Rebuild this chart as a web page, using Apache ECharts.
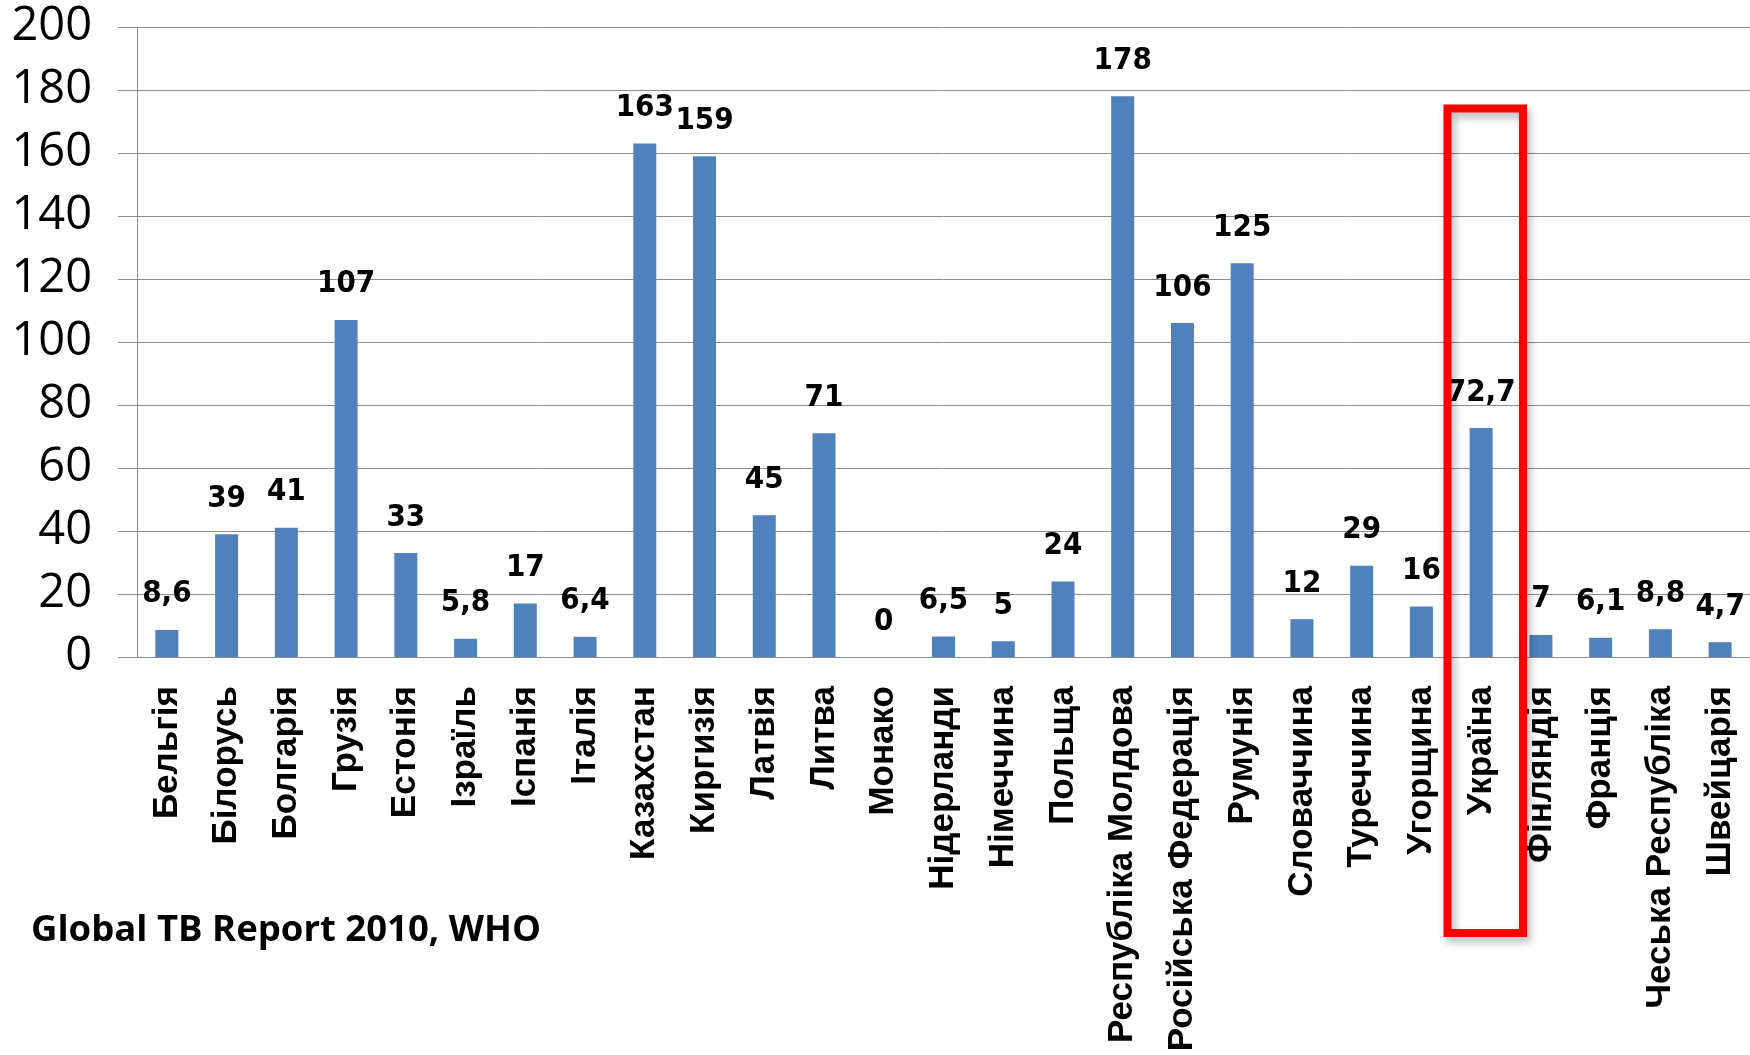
<!DOCTYPE html>
<html lang="uk">
<head>
    <meta charset="utf-8">
    <script src="https://cdn.jsdelivr.net/npm/echarts@6/dist/echarts.min.js"></script>
    <style>
        html, body { margin: 0; padding: 0; background: #fff; }
        #main { width: 1750px; height: 1055px; }
    </style>
</head>
<body>
<div id="main"></div>
<script>
    // країни (вісь X)
    var countries = ['Бельгія', 'Білорусь', 'Болгарія', 'Грузія', 'Естонія', 'Ізраїль', 'Іспанія', 'Італія',
        'Казахстан', 'Киргизія', 'Латвія', 'Литва', 'Монако', 'Нідерланди', 'Німеччина', 'Польща',
        'Республіка Молдова', 'Російська Федерація', 'Румунія', 'Словаччина', 'Туреччина', 'Угорщина',
        'Україна', 'Фінляндія', 'Франція', 'Чеська Республіка', 'Швейцарія'];
    // значення
    var values = [8.6, 39, 41, 107, 33, 5.8, 17, 6.4,
        163, 159, 45, 71, 0, 6.5, 5, 24,
        178, 106, 125, 12, 29, 16,
        72.7, 7, 6.1, 8.8, 4.7];
    var yMin = 0, yMax = 200, yStep = 20;
    var source = 'Global TB Report 2010, WHO';

    var myChart = echarts.init(document.getElementById('main'));
    myChart.setOption({
        animation: false,
        grid: { left: 137, top: 27, width: 1620, height: 630 },
        xAxis: {
            type: 'category',
            data: countries,
            axisLine: { lineStyle: { color: '#8c8c8c', width: 1 } },
            axisTick: { length: 13, lineStyle: { color: '#8c8c8c' } },
            axisLabel: {
                rotate: 90,
                interval: 0,
                margin: 29,
                color: '#000',
                fontFamily: 'Liberation Sans, Arial, sans-serif',
                fontWeight: 'bold',
                fontSize: 35
            }
        },
        yAxis: {
            type: 'value',
            min: yMin,
            max: yMax,
            interval: yStep,
            axisLine: { show: true, lineStyle: { color: '#8c8c8c', width: 1 } },
            axisTick: { show: true, length: 19, lineStyle: { color: '#8c8c8c' } },
            splitLine: { lineStyle: { color: '#8c8c8c', width: 1 } },
            axisLabel: {
                margin: 45,
                color: '#000',
                fontFamily: 'Open Sans, sans-serif',
                fontSize: 47
            }
        },
        series: [{
            type: 'bar',
            data: values,
            barWidth: 23,
            itemStyle: { color: '#4F81BD' },
            label: {
                show: true,
                position: 'top',
                distance: 20,
                color: '#000',
                fontFamily: "'Liberation Sans Narrow', 'DejaVu Sans Condensed', sans-serif",
                fontWeight: 'bold',
                fontSize: 31,
                formatter: function (p) { return String(p.value).replace('.', ','); }
            }
        }],
        graphic: [
            {
                type: 'rect',
                shape: { x: 1447.5, y: 108.5, width: 75.5, height: 824.5 },
                style: {
                    fill: 'none',
                    stroke: '#ff0000',
                    lineWidth: 8,
                    shadowBlur: 8,
                    shadowColor: 'rgba(0,0,0,0.3)',
                    shadowOffsetX: 3,
                    shadowOffsetY: 5
                },
                z: 100
            },
            {
                type: 'text',
                x: 31,
                y: 931,
                style: {
                    text: source,
                    fill: '#000',
                    font: 'bold 36.5px "Open Sans", sans-serif',
                    textVerticalAlign: 'middle'
                }
            }
        ]
    });
</script>
</body>
</html>
